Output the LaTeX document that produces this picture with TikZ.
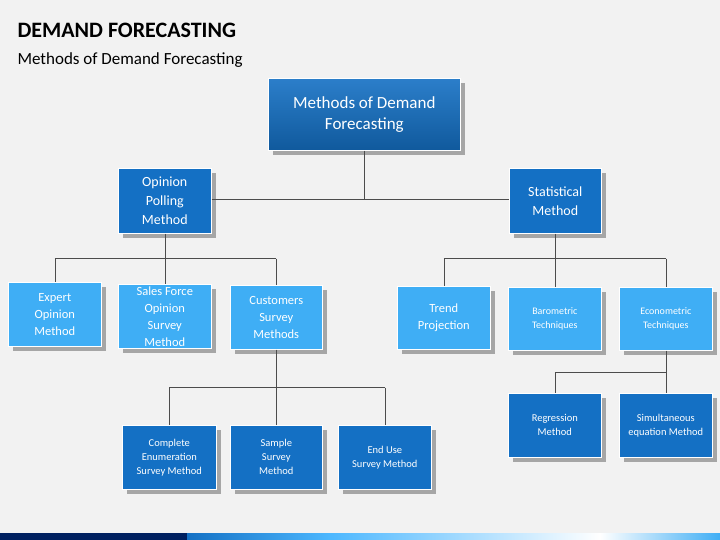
\documentclass[tikz,border=0pt]{standalone}
\usepackage{fontspec}
\setmainfont{Carlito}
\usetikzlibrary{shadows}
\definecolor{bg}{HTML}{F2F2F2}
\definecolor{dk}{HTML}{1470C4}
\definecolor{lt}{HTML}{3FAEF5}
\definecolor{navy}{HTML}{002060}
\tikzset{
 bx/.style={draw=white, line width=0.6pt, text=white, align=center, anchor=north west, inner sep=2pt,
   drop shadow={shadow xshift=5pt, shadow yshift=-5pt, fill=black!35, opacity=1}},
 dkb/.style={bx, fill=dk},
 ltb/.style={bx, fill=lt},
 ln/.style={draw=black!70, line width=0.6pt}
}
\begin{document}
\begin{tikzpicture}[x=1pt,y=-1pt]
\fill[bg] (0,0) rectangle (720,540);
\useasboundingbox (0,0) rectangle (720,540);
\fill[navy] (0,533) rectangle (187,540);
\shade[left color=dk, right color=cyan!60!blue!70] (187,533) rectangle (330,540);
\shade[left color=cyan!60!blue!70, right color=white] (330,533) rectangle (600,540);
\shade[left color=white, right color=lt] (600,533) rectangle (720,540);
\node[anchor=west, font=\bfseries\fontsize{22}{24}\selectfont] (t) at (14,30) {DEMAND FORECASTING};
\node[anchor=west, font=\fontsize{17}{20}\selectfont] (st) at (14,60) {Methods of Demand Forecasting};

\node[dkb, top color=dk!90!white, bottom color=dk!80!black, minimum width=192pt, minimum height=72pt, font=\fontsize{17}{21}\selectfont] (m) at (268,78) {Methods of Demand\\Forecasting};
\node[dkb, minimum width=93pt, minimum height=65pt, font=\fontsize{14}{19}\selectfont] (op) at (118,168) {Opinion\\Polling\\Method};
\node[dkb, minimum width=92pt, minimum height=65pt, font=\fontsize{14}{19}\selectfont] (sm) at (509,168) {Statistical\\Method};

\node[ltb, minimum width=93pt, minimum height=64pt, font=\fontsize{12.5}{17}\selectfont] (ex) at (8,282) {Expert\\Opinion\\Method};
\node[ltb, minimum width=93pt, minimum height=64pt, font=\fontsize{12.5}{17}\selectfont] (sf) at (118,284) {Sales Force\\Opinion\\Survey\\Method};
\node[ltb, minimum width=92pt, minimum height=64pt, font=\fontsize{12.5}{17}\selectfont] (cs) at (230,285) {Customers\\Survey\\Methods};
\node[ltb, minimum width=93pt, minimum height=63pt, font=\fontsize{12.5}{17}\selectfont] (tp) at (397,286) {Trend\\Projection};
\node[ltb, minimum width=93pt, minimum height=63pt, font=\fontsize{10}{14}\selectfont] (ba) at (508,287) {Barometric\\Techniques};
\node[ltb, minimum width=93pt, minimum height=63pt, font=\fontsize{10}{14}\selectfont] (ec) at (619,287) {Econometric\\Techniques};

\node[dkb, minimum width=93pt, minimum height=64pt, font=\fontsize{10.5}{14}\selectfont] (rg) at (508,393) {Regression\\Method};
\node[dkb, minimum width=93pt, minimum height=64pt, font=\fontsize{10.5}{14}\selectfont] (si) at (619,393) {Simultaneous\\equation Method};
\node[dkb, minimum width=94pt, minimum height=64pt, font=\fontsize{10.5}{14}\selectfont] (ce) at (122,425) {Complete\\Enumeration\\Survey Method};
\node[dkb, minimum width=92pt, minimum height=64pt, font=\fontsize{10.5}{14}\selectfont] (ss) at (230,425) {Sample\\Survey\\Method};
\node[dkb, minimum width=93pt, minimum height=64pt, font=\fontsize{10.5}{14}\selectfont] (eu) at (338,425) {End Use\\Survey Method};

\begin{scope}[on background layer/.style={}]
\end{scope}
\draw[ln] (m.south) -- ++(0,49) coordinate (j1);
\draw[ln] (op.east |- j1) -- (sm.west |- j1);
\draw[ln] (op.south) -- ++(0,25) coordinate (j2);
\draw[ln] (ex.north |- j2) -- (cs.north |- j2);
\draw[ln] (ex.north |- j2) -- (ex.north);
\draw[ln] (sf.north |- j2) -- (sf.north);
\draw[ln] (cs.north |- j2) -- (cs.north);
\draw[ln] (sm.south) -- ++(0,25) coordinate (j3);
\draw[ln] (tp.north -| 443,0) ++(0,0);
\draw[ln] (tp.north |- j3) -- (ec.north |- j3);
\draw[ln] (tp.north |- j3) -- (tp.north);
\draw[ln] (ba.north |- j3) -- (ba.north);
\draw[ln] (ec.north |- j3) -- (ec.north);
\draw[ln] (cs.south) -- ++(0,38) coordinate (j4);
\draw[ln] (ce.north |- j4) -- (eu.north |- j4);
\draw[ln] (ce.north |- j4) -- (ce.north);
\draw[ln] (ss.north |- j4) -- (ss.north);
\draw[ln] (eu.north |- j4) -- (eu.north);
\draw[ln] (ec.south) -- ++(0,22) coordinate (j5);
\draw[ln] (rg.north |- j5) -- (si.north |- j5);
\draw[ln] (rg.north |- j5) -- (rg.north);
\draw[ln] (si.north |- j5) -- (si.north);
\end{tikzpicture}
\end{document}
